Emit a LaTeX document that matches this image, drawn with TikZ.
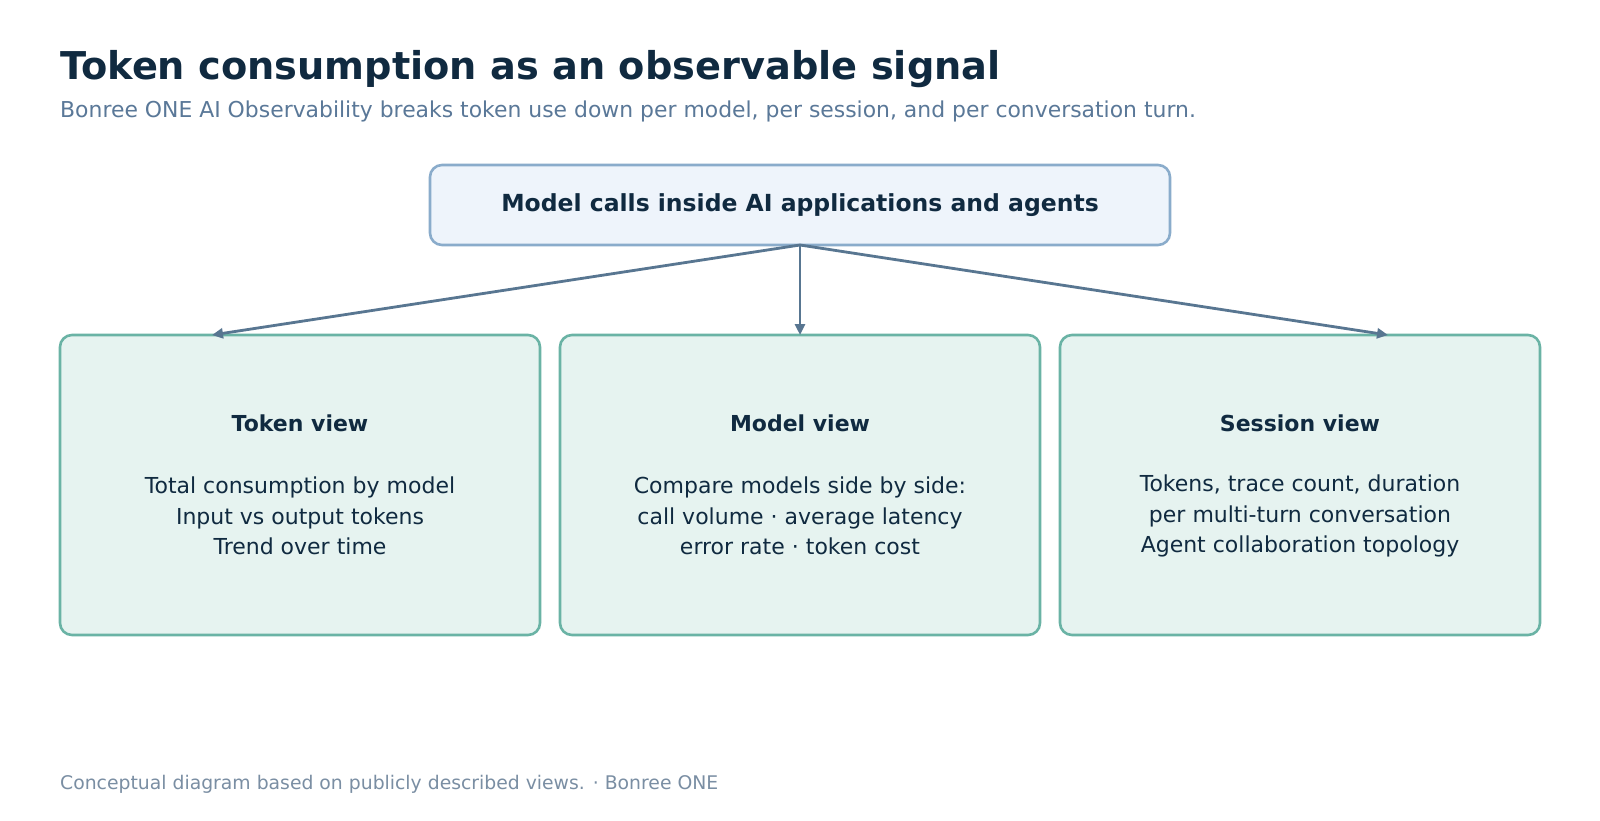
\documentclass[tikz,border=0pt]{standalone}
\usepackage{fontspec}
\setmainfont{DejaVu Sans}
\usetikzlibrary{arrows.meta}
\definecolor{ink}{HTML}{102A40}
\definecolor{subink}{HTML}{5A7898}
\definecolor{footink}{HTML}{7A8EA3}
\definecolor{topfill}{HTML}{EEF4FB}
\definecolor{topline}{HTML}{8AACCB}
\definecolor{viewfill}{HTML}{E6F3F0}
\definecolor{viewline}{HTML}{6AB3A5}
\definecolor{arrowc}{HTML}{587691}
\tikzset{
  source/.style={draw=topline, fill=topfill, line width=2.6pt, rounded corners=12pt},
  view/.style={draw=viewline, fill=viewfill, line width=2.6pt, rounded corners=12pt},
  feed/.style={draw=arrowc, line width=2.8pt, -{Triangle[length=11pt,width=10pt]}},
  head/.style={text=ink, font=\fontsize{22}{26}\selectfont\bfseries},
  body/.style={text=ink, align=center, font=\fontsize{22}{30.5}\selectfont},
}
\begin{document}
\begin{tikzpicture}[x=1pt,y=-1pt]
  \useasboundingbox[fill=white] (0,0) rectangle (1600,820);
  % heading
  \node[anchor=base west, inner sep=0pt, text=ink, font=\fontsize{38.3}{42}\selectfont\bfseries] (title) at (60,79) {Token consumption as an observable signal};
  \node[anchor=base west, inner sep=0pt, text=subink, font=\fontsize{21.9}{26}\selectfont] (sub) at (60,117) {Bonree ONE AI Observability breaks token use down per model, per session, and per conversation turn.};
  % source
  \path[source] (430,165) rectangle (1170,245);
  \node[head, font=\fontsize{23.5}{27}\selectfont\bfseries] (src) at (800,205) {Model calls inside AI applications and agents};
  \coordinate (srcS) at (800,245);
  % views
  \path[view] (60,335) rectangle (540,635);
  \path[view] (560,335) rectangle (1040,635);
  \path[view] (1060,335) rectangle (1540,635);
  \coordinate (tokN) at (212,335);
  \coordinate (modN) at (800,335);
  \coordinate (sesN) at (1388,335);
  \node[head] (tokH) at (300,423) {Token view};
  \node[head] (modH) at (800,423) {Model view};
  \node[head] (sesH) at (1300,423) {Session view};
  \node[body] (tokB) at (300,516) {Total consumption by model\\Input vs output tokens\\Trend over time};
  \node[body] (modB) at (800,516) {Compare models side by side:\\call volume · average latency\\error rate · token cost};
  \node[body] (sesB) at (1300,516) {Tokens, trace count, duration\\per multi-turn conversation\\Agent collaboration topology};
  % connectors
  \draw[feed] (srcS) -- (tokN);
  \draw[feed] (srcS) -- (modN);
  \draw[feed] (srcS) -- (sesN);
  % footer
  \node[anchor=base west, inner sep=0pt, text=footink, font=\fontsize{18.8}{22}\selectfont] (foot) at (60,789) {Conceptual diagram based on publicly described views. · Bonree ONE};
\end{tikzpicture}
\end{document}
